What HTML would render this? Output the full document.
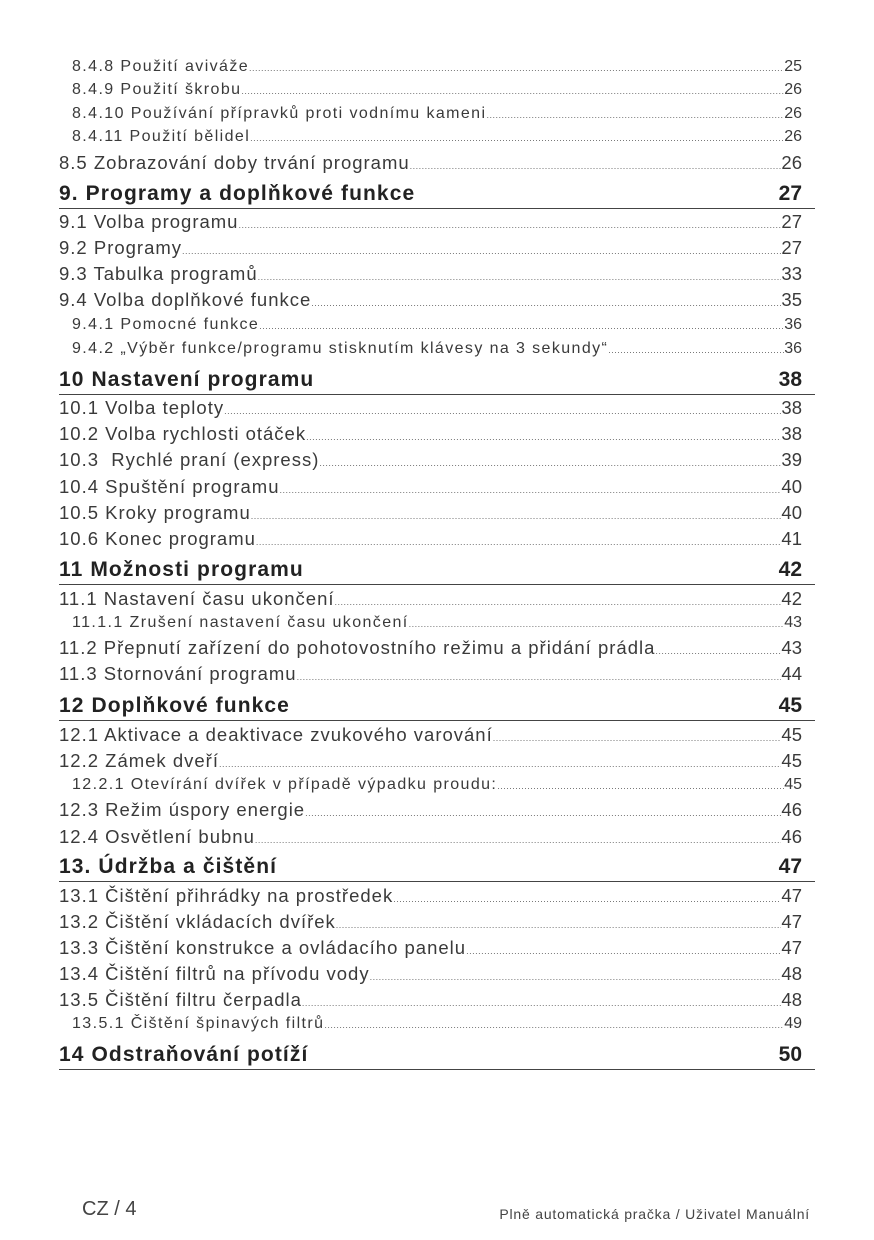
<!DOCTYPE html>
<html><head><meta charset="utf-8"><style>
body{margin:0;width:874px;height:1240px;background:#fff;position:relative;font-family:"Liberation Sans",sans-serif;overflow:hidden}
.r{position:absolute;right:72px;display:flex;align-items:baseline;white-space:nowrap;color:#3a3a3a;height:24px;line-height:24px}
.r .t{flex:none}
.r .d{flex:1;overflow:hidden;font-size:9px;letter-spacing:0.5px;color:#666}
.r .d::before{content:"................................................................................................................................................................................................................................................................................................"}
.r .p{flex:none;letter-spacing:0}
.s{left:72px;font-size:16px;letter-spacing:1.4px;transform:translateY(-12px)}
.m{left:59px;font-size:18.5px;letter-spacing:1px;transform:translateY(-12px)}
.h{position:absolute;left:59px;width:756px;border-bottom:1.3px solid #444;font-weight:bold;font-size:21px;letter-spacing:1.1px;color:#222;height:28px;line-height:28px}
.h span{position:absolute;right:13px;top:0;letter-spacing:0}
.f{position:absolute;color:#444}
</style></head><body>
<div class="r s" style="top:67px"><span class="t">8.4.8 Použití aviváže</span><span class="d"></span><span class="p">25</span></div>
<div class="r s" style="top:90px"><span class="t">8.4.9 Použití škrobu</span><span class="d"></span><span class="p">26</span></div>
<div class="r s" style="top:114px"><span class="t">8.4.10 Používání přípravků proti vodnímu kameni</span><span class="d"></span><span class="p">26</span></div>
<div class="r s" style="top:137px"><span class="t">8.4.11 Použití bělidel</span><span class="d"></span><span class="p">26</span></div>
<div class="r m" style="top:163px"><span class="t">8.5 Zobrazování doby trvání programu</span><span class="d"></span><span class="p">26</span></div>
<div class="h" style="top:180px">9. Programy a doplňkové funkce<span>27</span></div>
<div class="r m" style="top:222px"><span class="t">9.1 Volba programu</span><span class="d"></span><span class="p">27</span></div>
<div class="r m" style="top:248px"><span class="t">9.2 Programy</span><span class="d"></span><span class="p">27</span></div>
<div class="r m" style="top:274px"><span class="t">9.3 Tabulka programů</span><span class="d"></span><span class="p">33</span></div>
<div class="r m" style="top:300px"><span class="t">9.4 Volba doplňkové funkce</span><span class="d"></span><span class="p">35</span></div>
<div class="r s" style="top:325px"><span class="t">9.4.1 Pomocné funkce</span><span class="d"></span><span class="p">36</span></div>
<div class="r s" style="top:349px"><span class="t">9.4.2 „Výběr funkce/programu stisknutím klávesy na 3 sekundy“</span><span class="d"></span><span class="p">36</span></div>
<div class="h" style="top:366px">10 Nastavení programu<span>38</span></div>
<div class="r m" style="top:408px"><span class="t">10.1 Volba teploty</span><span class="d"></span><span class="p">38</span></div>
<div class="r m" style="top:434px"><span class="t">10.2 Volba rychlosti otáček</span><span class="d"></span><span class="p">38</span></div>
<div class="r m" style="top:460px"><span class="t">10.3 &nbsp;Rychlé praní (express)</span><span class="d"></span><span class="p">39</span></div>
<div class="r m" style="top:487px"><span class="t">10.4 Spuštění programu</span><span class="d"></span><span class="p">40</span></div>
<div class="r m" style="top:513px"><span class="t">10.5 Kroky programu</span><span class="d"></span><span class="p">40</span></div>
<div class="r m" style="top:539px"><span class="t">10.6 Konec programu</span><span class="d"></span><span class="p">41</span></div>
<div class="h" style="top:556px">11 Možnosti programu<span>42</span></div>
<div class="r m" style="top:599px"><span class="t">11.1 Nastavení času ukončení</span><span class="d"></span><span class="p">42</span></div>
<div class="r s" style="top:623px"><span class="t">11.1.1 Zrušení nastavení času ukončení</span><span class="d"></span><span class="p">43</span></div>
<div class="r m" style="top:648px"><span class="t">11.2 Přepnutí zařízení do pohotovostního režimu a přidání prádla</span><span class="d"></span><span class="p">43</span></div>
<div class="r m" style="top:674px"><span class="t">11.3 Stornování programu</span><span class="d"></span><span class="p">44</span></div>
<div class="h" style="top:692px">12 Doplňkové funkce<span>45</span></div>
<div class="r m" style="top:735px"><span class="t">12.1 Aktivace a deaktivace zvukového varování</span><span class="d"></span><span class="p">45</span></div>
<div class="r m" style="top:761px"><span class="t">12.2 Zámek dveří</span><span class="d"></span><span class="p">45</span></div>
<div class="r s" style="top:785px"><span class="t">12.2.1 Otevírání dvířek v případě výpadku proudu:</span><span class="d"></span><span class="p">45</span></div>
<div class="r m" style="top:810px"><span class="t">12.3 Režim úspory energie</span><span class="d"></span><span class="p">46</span></div>
<div class="r m" style="top:837px"><span class="t">12.4 Osvětlení bubnu</span><span class="d"></span><span class="p">46</span></div>
<div class="h" style="top:853px">13. Údržba a čištění<span>47</span></div>
<div class="r m" style="top:896px"><span class="t">13.1 Čištění přihrádky na prostředek</span><span class="d"></span><span class="p">47</span></div>
<div class="r m" style="top:922px"><span class="t">13.2 Čištění vkládacích dvířek</span><span class="d"></span><span class="p">47</span></div>
<div class="r m" style="top:948px"><span class="t">13.3 Čištění konstrukce a ovládacího panelu</span><span class="d"></span><span class="p">47</span></div>
<div class="r m" style="top:974px"><span class="t">13.4 Čištění filtrů na přívodu vody</span><span class="d"></span><span class="p">48</span></div>
<div class="r m" style="top:1000px"><span class="t">13.5 Čištění filtru čerpadla</span><span class="d"></span><span class="p">48</span></div>
<div class="r s" style="top:1024px"><span class="t">13.5.1 Čištění špinavých filtrů</span><span class="d"></span><span class="p">49</span></div>
<div class="h" style="top:1041px">14 Odstraňování potíží<span>50</span></div>
<div class="f" style="left:82px;top:1198px;font-size:20px">CZ / 4</div>
<div class="f" style="right:64px;top:1206px;font-size:14px;letter-spacing:0.8px">Plně automatická pračka / Uživatel Manuální</div>
</body></html>
